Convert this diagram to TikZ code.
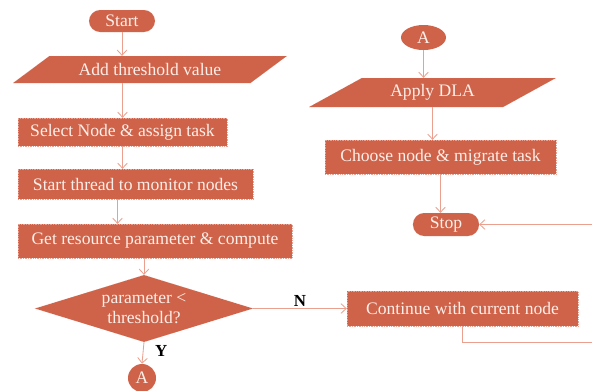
\documentclass[tikz,border=0pt]{standalone}
\usepackage{fontspec}
\setmainfont{Liberation Serif}
\usetikzlibrary{shapes.geometric,arrows.meta}
\definecolor{boxfill}{HTML}{CF634A}
\definecolor{boxline}{HTML}{E9A090}
\definecolor{boxtext}{HTML}{FCEEE8}
\definecolor{flowline}{HTML}{EBA08F}
\begin{document}
\begin{tikzpicture}[x=0.025cm,y=-0.025cm,
    every node/.style={font=\fontsize{12.5}{14}\selectfont,text=boxtext,inner sep=1pt},
    box/.style={rectangle,fill=boxfill,draw=boxline,densely dotted,line width=0.2pt},
    pill/.style={box,rounded corners=0.28cm},
    io/.style={trapezium,trapezium left angle=30,trapezium right angle=150,
        trapezium stretches=true,fill=boxfill,draw=boxline,densely dotted,line width=0.2pt},
    lbl/.style={text=black,font=\fontsize{12}{13}\selectfont\bfseries},
    flow/.style={draw=flowline,line width=0.6pt,-{Straight Barb[length=1.3mm,width=2.4mm]}}]
    \useasboundingbox (0,0) rectangle (592,390);
    % left column
    \node[pill,minimum width=1.65cm,minimum height=0.55cm](start) at (122,21){Start};
    \node[io,minimum width=6.85cm,minimum height=0.675cm](add) at (150,69.5){Add threshold value};
    \node[box,minimum width=5.225cm,minimum height=0.7cm](sel) at (122.5,132){Select Node \& assign task};
    \node[box,minimum width=5.875cm,minimum height=0.75cm](thr) at (135.5,184){Start thread to monitor nodes};
    \node[box,minimum width=6.85cm,minimum height=0.85cm](res) at (155,241){Get resource parameter \& compute};
    \node[diamond,fill=boxfill,draw=boxline,densely dotted,line width=0.2pt,
        minimum width=5.45cm,minimum height=1.675cm,aspect=3.2,inner sep=0pt,
        align=center](dia) at (144,308.5){parameter <\\threshold?};
    \node[circle,fill=boxfill,minimum size=0.7cm,inner sep=0pt](a1) at (142,378){A};
    % right column
    \node[ellipse,fill=boxfill,minimum width=1.125cm,minimum height=0.625cm,inner sep=0pt](a2) at (423.5,37.5){A};
    \node[io,minimum width=6.175cm,minimum height=0.725cm](dla) at (432.5,92.5){Apply DLA};
    \node[box,minimum width=5.775cm,minimum height=0.85cm](cho) at (440.5,157){Choose node \& migrate task};
    \node[pill,minimum width=1.65cm,minimum height=0.575cm](stop) at (446,224.5){Stop};
    \node[box,minimum width=5.775cm,minimum height=0.875cm](cont) at (462.5,308.5){Continue with current node};
    \coordinate (rt) at (600,342);
    % connectors
    \draw[flow](start.south)--(start.south |- add.north);
    \draw[flow](sel.north |- add.south)--(sel.north);
    \draw[flow](sel.south)--(sel.south |- thr.north);
    \draw[flow]([xshift=-0.125cm]sel.south |- thr.south)--([xshift=-0.125cm]sel.south |- res.north);
    \draw[flow](dia.north |- res.south)--(dia.north);
    \draw[flow](dia.south)--(a1.north)node[pos=0.4,right=0.25cm,lbl]{Y};
    \draw[flow](dia.east)--(cont.west)node[midway,above,lbl]{N};
    \draw[flow](a2.south)--(a2.south |- dla.north);
    \draw[flow](dla.south)--(dla.south |- cho.north);
    \draw[flow](cho.south)--(cho.south |- stop.north);
    \draw[flow](cont.south)|-(rt)|-(stop.east);
\end{tikzpicture}
\end{document}
